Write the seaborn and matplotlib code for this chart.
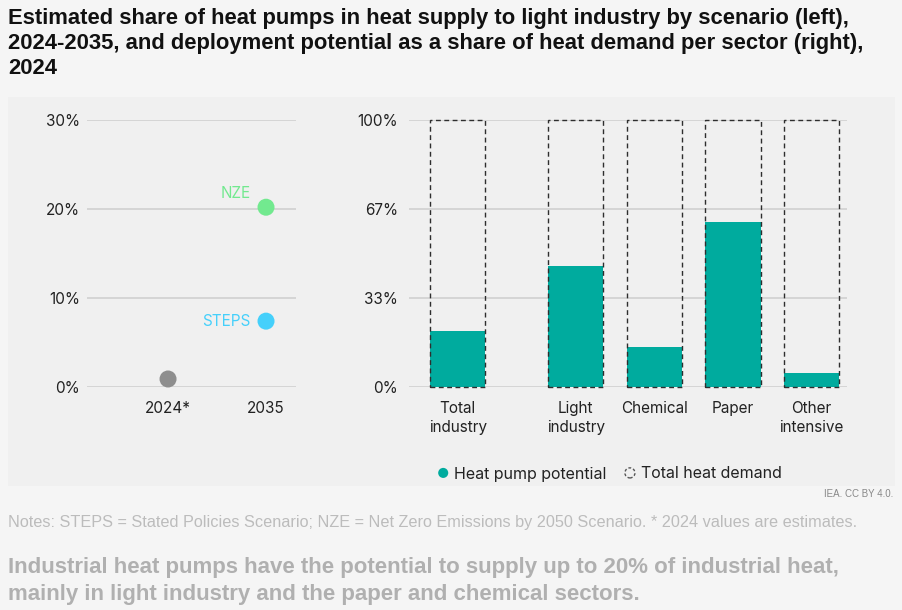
import matplotlib
matplotlib.use("Agg")
import matplotlib.pyplot as plt
import matplotlib.patches as mpatches
from matplotlib.legend_handler import HandlerPatch
import seaborn as sns

# left panel: share of heat pumps in light industry heat supply (%)
years = ["2024*", "2035", "2035"]
scenarios = ["Estimate", "STEPS", "NZE"]
shares = [0.9, 7.4, 20.2]
scenario_colors = {"Estimate": "#8e8e8e", "STEPS": "#45d0fb", "NZE": "#72e98f"}

# right panel: deployment potential as share of heat demand (%)
sectors = ["Total\nindustry", "Light\nindustry", "Chemical", "Paper", "Other\nintensive"]
potential = [20.8, 45.5, 15.0, 61.7, 5.2]
total_demand = [100, 100, 100, 100, 100]
right_ticks = [0, 100 / 3, 200 / 3, 100]
right_ticklabels = ["0%", "33%", "67%", "100%"]

TEAL = "#00ab9e"

sns.set_theme(style="white")
plt.rcParams["font.family"] = ["Inter", "DejaVu Sans"]

W, H = 902, 610
fig = plt.figure(figsize=(W / 100, H / 100), dpi=100, facecolor="#f5f5f5")

# light grey chart panel
fig.patches.append(mpatches.Rectangle((8 / W, 1 - 486 / H), 887 / W, 389 / H,
                                      transform=fig.transFigure, facecolor="#f0f0f0",
                                      edgecolor="none", zorder=-5))


def px_axes(x0, y0, x1, y1):
    return fig.add_axes([x0 / W, 1 - y1 / H, (x1 - x0) / W, (y1 - y0) / H])


# ---- left panel
ax1 = px_axes(87, 120, 296, 387)
ax1.set_facecolor("none")
sns.scatterplot(x=years, y=shares, hue=scenarios, palette=scenario_colors, s=150,
                edgecolor="none", legend=False, ax=ax1, zorder=3, clip_on=False)
for scen, val in zip(scenarios, shares):
    if scen == "Estimate":
        continue
    dy = 10 if scen == "NZE" else 0
    ax1.annotate(scen, ("2035", val), xytext=(-11, dy), textcoords="offset points",
                 ha="right", va="center", color=scenario_colors[scen], fontsize=11)
ax1.set_xlim(-0.827, 1.306)
ax1.set_ylim(0, 30)
ax1.set_yticks([0, 10, 20, 30])
ax1.set_yticklabels(["0%", "10%", "20%", "30%"])

# ---- right panel
ax2 = px_axes(409, 120, 847, 387)
ax2.set_facecolor("none")
positions = [0] + [1.5 + i for i in range(len(sectors) - 1)]
sns.barplot(x=positions, y=potential, native_scale=True, width=0.7, color=TEAL,
            saturation=1, linewidth=0, ax=ax2, zorder=2)
sns.barplot(x=positions, y=total_demand, native_scale=True, width=0.7, color="#2e2e2e",
            fill=False, linewidth=1.0, linestyle=(0, (3.5, 2.5)), ax=ax2, zorder=3,
            clip_on=False)
ax2.set_xlim(-0.62, 4.95)
ax2.set_ylim(0, 100)
ax2.set_yticks(right_ticks)
ax2.set_yticklabels(right_ticklabels)
ax2.set_xticks(positions)
ax2.set_xticklabels(sectors, linespacing=1.35)

for ax in (ax1, ax2):
    ax.set_xlabel("")
    ax.set_ylabel("")
    sns.despine(ax=ax, left=True, bottom=True)
    ax.yaxis.grid(True, color="#d0d0d0", linewidth=1.2)
    ax.xaxis.grid(False)
    ax.set_axisbelow(True)
    ax.tick_params(axis="both", length=0, labelsize=11, labelcolor="#222222")
    ax.tick_params(axis="x", pad=10)
    ax.tick_params(axis="y", pad=5)
ax2.tick_params(axis="y", pad=8)


# legend with round symbols
class HandlerCircle(HandlerPatch):
    def create_artists(self, legend, orig_handle, xdescent, ydescent, width, height,
                       fontsize, trans):
        c = mpatches.Circle((width / 2 - xdescent, height / 2 - ydescent), radius=height * 0.45)
        self.update_prop(c, orig_handle, legend)
        c.set_transform(trans)
        return [c]


handles = [mpatches.Patch(facecolor=TEAL, edgecolor="none", label="Heat pump potential"),
           mpatches.Patch(facecolor="none", edgecolor="#555555", linestyle=(0, (2, 1.5)),
                          linewidth=1, label="Total heat demand")]
fig.legend(handles=handles, loc="center", bbox_to_anchor=(609 / W, 1 - 474 / H), ncol=2,
           frameon=False, fontsize=11.5, handlelength=0.9, handletextpad=0.25,
           columnspacing=1.0, handler_map={mpatches.Patch: HandlerCircle()},
           labelcolor="#222222")

# texts
fig.text(8 / W, 1 - 8 / H,
         "Estimated share of heat pumps in heat supply to light industry by scenario (left),\n"
         "2024-2035, and deployment potential as a share of heat demand per sector (right),\n"
         "2024",
         ha="left", va="top", fontsize=15.8, fontweight="bold", family="Liberation Sans",
         color="#111111", linespacing=1.25)
fig.text(893 / W, 1 - 494 / H, "IEA. CC BY 4.0.", ha="right", va="center", fontsize=7,
         family="Liberation Sans", color="#888888")
fig.text(8 / W, 1 - 522 / H,
         "Notes: STEPS = Stated Policies Scenario; NZE = Net Zero Emissions by 2050 Scenario. "
         "* 2024 values are estimates.",
         ha="left", va="center", fontsize=11.7, family="Liberation Sans", color="#bcbcbc")
fig.text(8 / W, 1 - 557 / H,
         "Industrial heat pumps have the potential to supply up to 20% of industrial heat,\n"
         "mainly in light industry and the paper and chemical sectors.",
         ha="left", va="top", fontsize=16, fontweight="bold", family="Liberation Sans",
         color="#b0b0b0", linespacing=1.35)

fig.savefig("out.png", dpi=100, facecolor=fig.get_facecolor())
